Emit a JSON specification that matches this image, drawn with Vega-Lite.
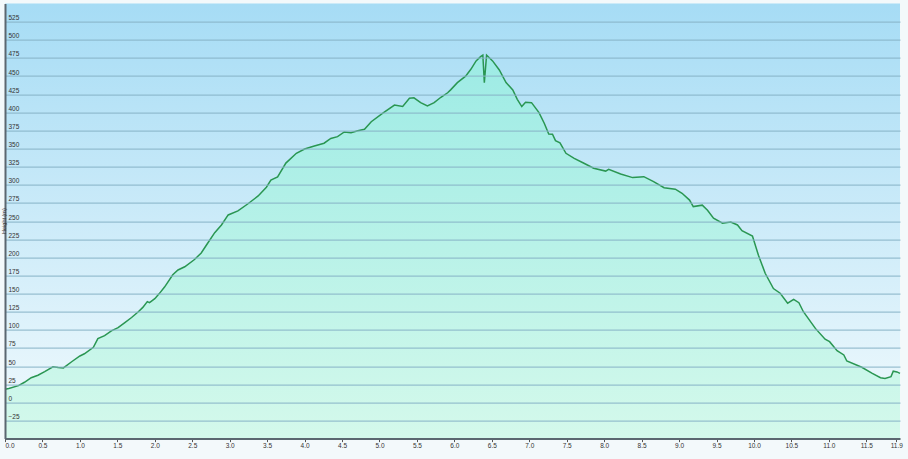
{
  "$schema": "https://vega.github.io/schema/vega-lite/v6.json",
  "width": 895,
  "height": 435,
  "autosize": {"type": "none"},
  "padding": {"left": 5, "top": 3.6, "right": 8, "bottom": 20.4},
  "background": "#f3f9fb",
  "config": {"view": {"stroke": null, "fill": {"gradient": "linear", "x1": 0, "y1": 0, "x2": 0, "y2": 1,
          "stops": [{"offset": 0, "color": "#a6dcf5"}, {"offset": 1, "color": "#f2fafd"}]}}},
  "data": {"values": [
    {"km": 0.0, "m": 18}, {"km": 0.05, "m": 19}, {"km": 0.18, "m": 23}, {"km": 0.26, "m": 27.7},
    {"km": 0.35, "m": 34}, {"km": 0.44, "m": 37.4}, {"km": 0.53, "m": 42.3}, {"km": 0.64, "m": 49},
    {"km": 0.71, "m": 48}, {"km": 0.78, "m": 47.5}, {"km": 0.89, "m": 56}, {"km": 1.0, "m": 64},
    {"km": 1.06, "m": 67}, {"km": 1.18, "m": 76}, {"km": 1.24, "m": 88}, {"km": 1.33, "m": 92},
    {"km": 1.42, "m": 98.5}, {"km": 1.51, "m": 103}, {"km": 1.6, "m": 110}, {"km": 1.69, "m": 117},
    {"km": 1.78, "m": 125}, {"km": 1.84, "m": 131}, {"km": 1.9, "m": 139}, {"km": 1.93, "m": 137.5},
    {"km": 2.0, "m": 143}, {"km": 2.06, "m": 150}, {"km": 2.13, "m": 159}, {"km": 2.24, "m": 176},
    {"km": 2.31, "m": 182.6}, {"km": 2.4, "m": 187}, {"km": 2.53, "m": 197}, {"km": 2.62, "m": 206},
    {"km": 2.69, "m": 217}, {"km": 2.8, "m": 234}, {"km": 2.89, "m": 244.7}, {"km": 2.98, "m": 258.5},
    {"km": 3.11, "m": 264}, {"km": 3.24, "m": 273.6}, {"km": 3.38, "m": 284.7}, {"km": 3.49, "m": 296.7},
    {"km": 3.55, "m": 306.7}, {"km": 3.64, "m": 311}, {"km": 3.75, "m": 330}, {"km": 3.89, "m": 343.5},
    {"km": 4.0, "m": 349.5}, {"km": 4.13, "m": 353.6}, {"km": 4.26, "m": 357.4}, {"km": 4.35, "m": 364},
    {"km": 4.44, "m": 366.5}, {"km": 4.53, "m": 373}, {"km": 4.62, "m": 372}, {"km": 4.71, "m": 374.7},
    {"km": 4.8, "m": 376.6}, {"km": 4.89, "m": 387}, {"km": 5.04, "m": 398.7}, {"km": 5.2, "m": 410},
    {"km": 5.31, "m": 408}, {"km": 5.4, "m": 419.4}, {"km": 5.46, "m": 420}, {"km": 5.55, "m": 413.4},
    {"km": 5.64, "m": 408.8}, {"km": 5.73, "m": 413.4}, {"km": 5.82, "m": 420.8}, {"km": 5.91, "m": 427},
    {"km": 5.95, "m": 431}, {"km": 6.04, "m": 441}, {"km": 6.15, "m": 450}, {"km": 6.22, "m": 459.4},
    {"km": 6.29, "m": 471}, {"km": 6.35, "m": 476.8}, {"km": 6.38, "m": 479}, {"km": 6.4, "m": 441},
    {"km": 6.43, "m": 479}, {"km": 6.51, "m": 471}, {"km": 6.6, "m": 458.5}, {"km": 6.69, "m": 441},
    {"km": 6.78, "m": 431}, {"km": 6.84, "m": 418}, {"km": 6.9, "m": 408}, {"km": 6.95, "m": 414},
    {"km": 7.03, "m": 413.4}, {"km": 7.13, "m": 399.6}, {"km": 7.2, "m": 385}, {"km": 7.26, "m": 370},
    {"km": 7.31, "m": 369.8}, {"km": 7.35, "m": 361}, {"km": 7.41, "m": 358}, {"km": 7.49, "m": 343.5},
    {"km": 7.6, "m": 336.6}, {"km": 7.73, "m": 329.8}, {"km": 7.86, "m": 323}, {"km": 8.02, "m": 319},
    {"km": 8.06, "m": 321.5}, {"km": 8.22, "m": 315}, {"km": 8.38, "m": 310}, {"km": 8.53, "m": 311.3},
    {"km": 8.66, "m": 304.4}, {"km": 8.8, "m": 296}, {"km": 8.95, "m": 294}, {"km": 9.04, "m": 288.4},
    {"km": 9.14, "m": 279}, {"km": 9.19, "m": 270}, {"km": 9.31, "m": 272}, {"km": 9.38, "m": 265},
    {"km": 9.46, "m": 254}, {"km": 9.58, "m": 247}, {"km": 9.69, "m": 248.8}, {"km": 9.78, "m": 244.7},
    {"km": 9.84, "m": 236.8}, {"km": 9.98, "m": 229.5}, {"km": 10.06, "m": 203}, {"km": 10.15, "m": 178},
    {"km": 10.26, "m": 157}, {"km": 10.35, "m": 150.5}, {"km": 10.45, "m": 136.7}, {"km": 10.53, "m": 142},
    {"km": 10.6, "m": 137.5}, {"km": 10.66, "m": 125}, {"km": 10.82, "m": 102}, {"km": 10.95, "m": 87},
    {"km": 11.01, "m": 83.7}, {"km": 11.11, "m": 71.3}, {"km": 11.2, "m": 65.4}, {"km": 11.24, "m": 57},
    {"km": 11.44, "m": 48.4}, {"km": 11.58, "m": 40}, {"km": 11.69, "m": 34}, {"km": 11.75, "m": 33},
    {"km": 11.83, "m": 35.5}, {"km": 11.86, "m": 43}, {"km": 11.91, "m": 42}, {"km": 11.95, "m": 40}
  ]},
  "encoding": {
    "x": {
      "field": "km", "type": "quantitative",
      "scale": {"domain": [0, 11.95], "nice": false, "zero": false},
      "axis": {
        "values": [0, 0.5, 1, 1.5, 2, 2.5, 3, 3.5, 4, 4.5, 5, 5.5, 6, 6.5, 7, 7.5, 8, 8.5, 9, 9.5, 10, 10.5, 11, 11.5, 11.9],
        "format": ".1f", "labelFlush": true, "grid": false, "title": null,
        "tickSize": 3, "tickColor": "#555555", "domainColor": "#5b6770", "domainWidth": 2,
        "labelFont": "Liberation Sans", "labelFontSize": 6.5, "labelColor": "#333333", "labelPadding": 1,
        "zindex": 1
      }
    },
    "y": {
      "field": "m", "type": "quantitative",
      "scale": {"domain": [-50, 550], "nice": false, "zero": false},
      "axis": {
        "values": [-25, 0, 25, 50, 75, 100, 125, 150, 175, 200, 225, 250, 275, 300, 325, 350, 375, 400, 425, 450, 475, 500, 525],
        "grid": true, "gridColor": "#86b2c6", "gridWidth": 1,
        "ticks": false, "domainColor": "#5b6770", "domainWidth": 2,
        "labelAlign": "left", "labelPadding": -3, "labelBaseline": "alphabetic", "labelOffset": -2,
        "labelFont": "Liberation Sans", "labelFontSize": 6.5, "labelColor": "#333333",
        "title": "Height (m)", "titleFont": "Liberation Sans", "titleFontSize": 5.5, "titleFontWeight": "normal",
        "titleColor": "#333333", "titleX": 1, "titleY": 217, "titleBaseline": "bottom",
        "zindex": 1
      }
    }
  },
  "layer": [
    {
      "data": {"values": [{}]},
      "mark": {
        "type": "rect",
        "fill": {"gradient": "linear", "x1": 0, "y1": 0, "x2": 0, "y2": 1,
          "stops": [{"offset": 0, "color": "#a6dcf5"}, {"offset": 1, "color": "#f2fafd"}]},
        "opacity": 1
      },
      "encoding": {
        "x": {"datum": 0, "type": "quantitative"},
        "x2": {"datum": 11.95},
        "y": {"datum": 550, "type": "quantitative"},
        "y2": {"datum": -50}
      }
    },
    {
      "mark": {
        "type": "area",
        "color": {"gradient": "linear", "x1": 0, "y1": 0, "x2": 0, "y2": 1,
          "stops": [{"offset": 0, "color": "#9debe5"}, {"offset": 1, "color": "#d4f9eb"}]}
      },
      "encoding": {"y2": {"datum": -50}}
    },
    {
      "mark": {"type": "line", "color": "#2a9652", "strokeWidth": 1.5},
      "encoding": {}
    }
  ]
}
